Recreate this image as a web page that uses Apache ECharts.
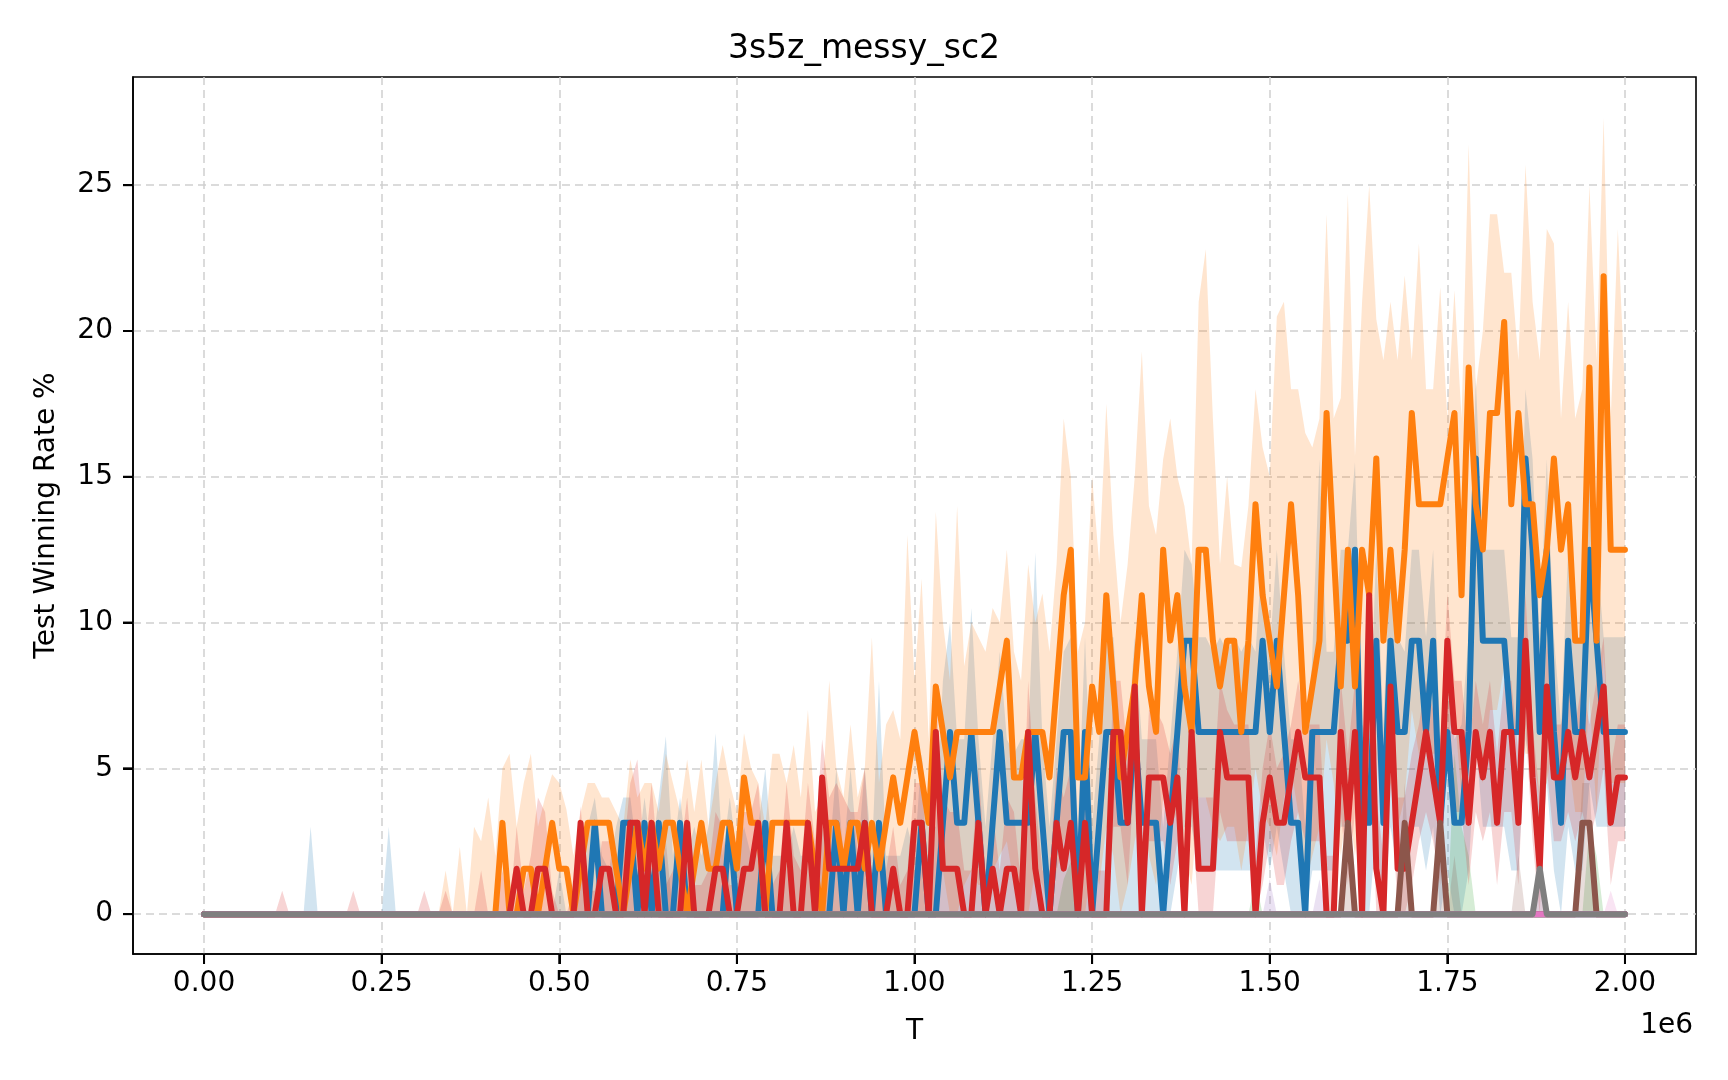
<!DOCTYPE html>
<html>
<head>
<meta charset="UTF-8">
<title>3s5z_messy_sc2</title>
<script src="https://cdn.jsdelivr.net/npm/echarts@6/dist/echarts.min.js"></script>
<style>
  html, body { margin: 0; padding: 0; background: #fff; }
  #chart { width: 1728px; height: 1080px; }
</style>
</head>
<body>
<div id="chart"></div>
<script type="text/javascript">
// one evaluation every 10k env steps, 0 .. 2e6
var T = [];
for (var i = 0; i <= 200; i++) T.push(i * 10000);

function zeros(n) { return new Array(n).fill(0); }
// mostly-empty runs: only list the steps where something shows up
function spikes(map) {
  var a = zeros(T.length);
  for (var k in map) a[+k] = map[k];
  return a;
}

var xTicks = [0, 250000, 500000, 750000, 1000000, 1250000, 1500000, 1750000, 2000000];
var yTicks = [0, 5, 10, 15, 20, 25];

// ---- curves (test win rate %) ----
var blueLine = [].concat(zeros(50),
  0,0,0,0,0,3.13,0,0,0,3.13,
  3.13,0,3.13,0,3.13,0,0,3.13,0,0,
  0,0,0,0,3.13,0,0,0,0,3.13,
  0,0,0,0,0,0,0,0,0,3.13,
  0,3.13,0,3.13,0,3.13,0,0,0,0,
  0,3.13,0,0,3.13,6.25,3.13,3.13,6.25,3.13,
  0,3.13,6.25,3.13,3.13,3.13,3.13,6.25,3.13,0,
  3.13,6.25,6.25,0,6.25,0,3.13,6.25,6.25,3.13,
  3.13,6.25,3.13,3.13,3.13,0,3.13,6.25,9.38,9.38,
  6.25,6.25,6.25,6.25,6.25,6.25,6.25,6.25,6.25,9.38,
  6.25,9.38,6.25,3.13,3.13,0,6.25,6.25,6.25,6.25,
  9.38,9.38,12.5,3.13,3.13,9.38,3.13,9.38,6.25,6.25,
  9.38,9.38,6.25,9.38,3.13,6.25,3.13,3.13,6.25,15.63,
  9.38,9.38,9.38,9.38,6.25,6.25,15.63,12.5,6.25,12.5,
  6.25,3.13,9.38,6.25,6.25,12.5,9.38,6.25,6.25,6.25,
  6.25);

var orangeLine = [].concat(zeros(40),
  0,0,3.13,0,0,1.56,1.56,0,1.56,3.13,
  1.56,1.56,0,1.56,3.13,3.13,3.13,3.13,1.56,0,
  1.56,3.13,1.56,3.13,1.56,3.13,3.13,1.56,0,1.56,
  3.13,1.56,1.56,3.13,3.13,1.56,4.69,3.13,3.13,0,
  3.13,3.13,3.13,3.13,3.13,3.13,1.56,0,3.13,3.13,
  1.56,3.13,3.13,1.56,3.13,1.56,3.13,4.69,3.13,4.69,
  6.25,4.69,3.13,7.81,6.25,4.69,6.25,6.25,6.25,6.25,
  6.25,6.25,7.81,9.38,4.69,4.69,6.25,6.25,6.25,4.69,
  7.81,10.94,12.5,4.69,4.69,7.81,6.25,10.94,7.81,4.69,
  6.25,7.81,10.94,7.81,6.25,12.5,9.38,10.94,7.81,6.25,
  12.5,12.5,9.38,7.81,9.38,9.38,6.25,9.38,14.06,10.94,
  9.38,7.81,10.94,14.06,10.94,6.25,7.81,9.38,17.19,12.5,
  7.81,12.5,7.81,12.5,10.94,15.63,9.38,12.5,9.38,12.5,
  17.19,14.06,14.06,14.06,14.06,15.63,17.19,10.94,18.75,14.06,
  12.5,17.19,17.19,20.31,14.06,17.19,14.06,14.06,10.94,12.5,
  15.63,12.5,14.06,9.38,9.38,18.75,9.38,21.88,12.5,12.5,
  12.5);

var redLine = [].concat(zeros(40),
  0,0,0,0,1.56,0,0,1.56,1.56,0,
  0,0,0,3.13,0,0,1.56,1.56,0,0,
  3.13,3.13,0,3.13,0,0,0,0,3.13,0,
  0,0,1.56,1.56,0,0,1.56,1.56,3.13,0,
  0,0,3.13,0,0,3.13,0,4.69,1.56,1.56,
  1.56,1.56,1.56,3.13,0,0,0,1.56,0,0,
  3.13,3.13,0,6.25,1.56,1.56,1.56,0,0,3.13,
  0,1.56,0,1.56,1.56,0,6.25,1.56,0,0,
  3.13,1.56,3.13,0,3.13,0,0,0,6.25,6.25,
  3.13,7.81,0,4.69,4.69,4.69,3.13,4.69,0,6.25,
  1.56,1.56,1.56,6.25,4.69,4.69,4.69,4.69,0,3.13,
  4.69,3.13,3.13,4.69,6.25,4.69,4.69,4.69,0,0,
  6.25,3.13,6.25,0,10.94,1.56,0,7.81,1.56,1.56,
  3.13,4.69,6.25,4.69,3.13,9.38,6.25,6.25,3.13,6.25,
  4.69,6.25,3.13,6.25,6.25,3.13,9.38,4.69,1.56,7.81,
  4.69,4.69,6.25,4.69,6.25,4.69,6.25,7.81,3.13,4.69,
  4.69);

var brownLine = spikes({161: 3.13, 169: 3.13, 174: 3.13, 194: 3.13, 195: 3.13});
var grayLine = spikes({188: 1.56});
var greenLine = zeros(201);
var purpleLine = zeros(201);
var pinkLine = zeros(201);

// ---- shaded spread (lower / upper edge) ----
var orangeHi = [].concat(zeros(30),
  0,0,0,0,1.5,0,2.3,0,3.0,2.5,
  4.0,2.0,5.0,5.5,3.0,4.5,5.5,3.0,4.0,4.8,
  4.5,3.6,2.0,3.5,4.5,4.5,4.0,4.0,3.5,3.0,
  5.3,4.0,4.5,4.5,3.5,5.5,4.5,3.5,5.3,3.5,
  5.3,3.0,4.5,5.8,4.5,3.5,6.2,5.0,4.5,3.0,
  5.5,5.5,4.5,5.8,4.0,7.0,3.5,4.0,8.0,5.0,
  4.0,6.5,4.0,5.0,9.5,4.5,6.5,7.0,6.0,13.0,
  8.0,11.5,6.0,13.8,10.0,8.0,14.0,8.5,10.0,9.5,
  9.0,10.5,10.0,12.5,9.0,8.0,12.0,10.0,11.0,9.0,
  12.0,17.0,15.0,9.0,10.0,15.0,12.0,17.5,13.0,10.0,
  12.0,15.0,19.3,14.0,13.0,15.6,17.0,15.0,14.0,12.0,
  21.0,22.8,17.0,12.0,15.0,12.0,11.9,14.0,18.0,16.0,
  15.0,20.5,21.0,18.0,18.0,16.5,16.0,17.0,24.0,17.0,
  17.7,24.7,15.7,21.0,25.0,20.4,19.0,21.0,19.0,21.9,
  19.0,23.0,18.0,18.0,21.5,17.0,21.4,17.0,26.4,18.0,
  20.0,24.0,24.0,22.0,22.0,19.0,25.7,21.0,19.0,23.5,
  23.0,17.0,21.0,17.0,18.0,25.0,19.0,27.3,17.0,23.5,
  18.0);
var orangeLo = [].concat(zeros(100),
  0,0,0,0,1.5,0,0,1.0,1.5,1.0,
  1.0,1.5,2.0,2.5,1.0,0,0,1.5,1.0,0,
  1.5,2.5,3.0,0,0,2.0,1.0,3.0,2.0,0,
  1.0,2.5,3.5,2.0,1.0,4.0,3.0,3.5,2.0,1.0,
  4.0,4.0,3.0,2.5,3.0,3.0,1.5,3.0,5.0,3.5,
  3.0,2.0,4.0,5.0,3.5,1.0,2.0,3.0,6.0,4.5,
  2.0,4.0,2.0,4.0,3.5,5.5,3.0,4.5,3.0,4.0,
  7.0,5.5,5.5,5.5,5.5,6.0,7.0,4.0,7.5,5.5,
  4.5,7.0,7.0,8.5,5.5,7.0,5.5,5.5,4.0,4.5,
  6.0,4.5,5.5,3.5,3.5,7.5,3.5,9.0,4.5,4.5,
  4.5);

var blueHi = [].concat(zeros(10),
  0,0,0,0,0,3.0,0,0,0,0,
  0,0,0,0,0,0,3.0,0,0,0,
  zeros(20),
  1.5,0,0,2.5,3.0,4.0,2.0,1.5,3.0,4.0,
  4.0,2.0,4.0,2.0,4.0,6.1,2.0,4.0,2.0,3.0,
  2.0,3.0,6.2,2.0,4.0,2.0,3.0,2.0,3.0,5.0,
  2.0,2.0,2.0,3.0,2.0,2.0,2.0,3.0,2.0,5.0,
  2.0,5.0,2.0,5.0,2.0,8.0,2.0,2.0,2.0,3.0,
  2.0,5.5,3.0,3.0,8.0,10.0,6.0,6.0,10.5,6.0,
  3.0,6.0,9.0,6.0,5.5,6.0,6.0,12.4,6.0,3.0,
  6.0,9.0,9.5,3.0,9.5,3.0,6.0,9.5,9.5,6.0,
  6.0,9.5,6.0,6.0,6.0,3.0,6.0,9.0,12.5,12.0,
  9.5,9.5,9.0,9.5,9.0,9.5,9.0,9.5,9.0,12.5,
  9.0,12.5,9.0,6.0,6.0,3.0,9.0,15.6,9.0,9.0,
  12.5,12.5,15.5,6.5,6.0,12.5,6.5,12.5,9.5,9.0,
  12.5,12.5,9.5,12.5,6.0,9.5,6.0,6.5,9.5,18.4,
  12.5,12.5,12.5,12.5,9.5,9.5,18.0,15.6,9.5,15.6,
  9.5,6.5,12.5,9.5,9.5,15.6,12.5,9.5,9.5,9.5,
  9.5);
var blueLo = [].concat(zeros(136),
  0,1.5,3.0,3.0,
  1.5,1.5,1.5,1.5,1.5,1.5,1.5,1.5,1.5,3.0,
  1.5,3.0,1.5,0,0,0,1.5,1.5,1.5,1.5,
  3.0,3.0,4.5,0,0,3.0,0,3.0,1.5,1.5,
  3.0,3.0,1.5,3.0,0,1.5,0,0,1.5,6.0,
  3.0,3.0,3.0,3.0,1.5,1.5,6.0,4.5,1.5,4.5,
  1.5,0,3.0,1.5,1.5,4.5,3.0,3.0,3.0,3.0,
  3.0);

var redHi = [].concat(zeros(10),
  0,0.8,0,0,0,0,0,0,0,0,
  0,0.8,0,0,0,0,0,0,0,0,
  0,0.8,0,0,0.8,0,0,0,0,1.5,
  0,0,1.5,0,3.0,0.8,2.0,4.0,3.5,0.8,
  0,0,0.8,3.7,0.8,0.8,2.5,2.5,0.8,2.0,
  4.5,5.3,2.0,4.5,1.5,1.0,1.5,2.0,4.0,1.0,
  1.0,1.5,3.5,3.0,1.0,1.0,3.5,3.5,4.5,1.0,
  1.0,1.5,4.5,2.0,1.5,4.5,2.5,6.0,4.0,4.5,
  4.0,3.5,3.5,5.0,1.0,1.5,1.5,3.0,1.0,1.5,
  4.5,4.5,1.5,7.5,4.0,3.5,3.5,1.5,1.5,5.0,
  1.5,3.5,1.5,4.0,3.5,1.0,8.0,4.0,1.5,1.5,
  5.0,4.0,5.0,1.5,5.0,1.5,1.5,1.5,8.0,8.0,
  5.5,9.0,2.0,7.0,7.0,6.5,5.5,6.5,2.0,8.0,
  4.0,4.0,4.0,8.0,7.0,6.5,6.5,6.5,2.0,5.0,
  6.5,5.0,5.5,6.5,8.0,6.5,6.5,6.5,2.0,2.0,
  8.0,5.5,8.0,2.0,12.0,4.0,2.0,9.5,4.0,4.0,
  5.5,6.5,8.0,7.0,5.5,11.0,8.0,8.0,5.5,8.0,
  6.5,8.0,5.5,8.0,8.0,5.5,11.0,6.5,4.0,9.5,
  6.5,6.5,8.0,6.5,8.0,6.5,8.0,9.5,5.0,6.5,
  6.5);
var redLo = [].concat(zeros(128),
  3.0,3.0,
  1.0,5.0,0,2.5,2.5,2.5,1.0,2.5,0,3.5,
  0,0,0,3.5,2.5,2.5,2.5,2.5,0,1.0,
  2.5,1.0,1.0,2.5,3.5,2.5,2.5,2.5,0,0,
  3.5,1.0,3.5,0,7.0,0,0,5.0,0,0,
  1.0,2.5,3.5,2.5,1.0,6.0,3.5,3.5,1.0,3.5,
  2.5,3.5,1.0,3.5,3.5,1.0,6.5,2.5,0,5.0,
  2.5,2.5,3.5,2.5,3.5,2.5,3.5,5.0,1.0,2.5,
  2.5);

var brownHi = spikes({65: 2.5, 161: 4.5, 169: 4.5, 174: 4.5, 176: 2.0, 185: 2.0, 194: 4.5, 195: 4.5});
var greenHi = spikes({121: 1.2, 122: 1.8, 148: 1.2, 176: 5.5, 177: 3.0, 178: 2.0, 195: 3.0, 196: 2.0});
var purpleHi = spikes({150: 1.2, 157: 1.2});
var pinkHi = spikes({188: 1.2, 198: 0.8});
var grayHi = spikes({188: 3.0});

var runs = [
  { name: 'run_0', color: '#1f77b4', line: blueLine,   lo: blueLo,     hi: blueHi },
  { name: 'run_1', color: '#ff7f0e', line: orangeLine, lo: orangeLo,   hi: orangeHi },
  { name: 'run_2', color: '#2ca02c', line: greenLine,  lo: zeros(201), hi: greenHi },
  { name: 'run_3', color: '#d62728', line: redLine,    lo: redLo,      hi: redHi },
  { name: 'run_4', color: '#9467bd', line: purpleLine, lo: zeros(201), hi: purpleHi },
  { name: 'run_5', color: '#8c564b', line: brownLine,  lo: zeros(201), hi: brownHi },
  { name: 'run_6', color: '#e377c2', line: pinkLine,   lo: zeros(201), hi: pinkHi },
  { name: 'run_7', color: '#7f7f7f', line: grayLine,   lo: zeros(201), hi: grayHi }
];

var X_RANGE = { min: -100000, max: 2100000 };
var Y_RANGE = { min: -1.367, max: 28.71 };
var TICK_LEN = 10;

function fade(hex, a) {
  var n = parseInt(hex.slice(1), 16);
  return 'rgba(' + (n >> 16 & 255) + ',' + (n >> 8 & 255) + ',' + (n & 255) + ',' + a + ')';
}

var series = [];
runs.forEach(function (r) {
  // spread band: one polygon, upper edge left->right then lower edge back
  series.push({
    name: r.name + '_band', type: 'custom', silent: true,
    encode: { x: 0, y: [1, 2] },
    data: T.map(function (t, i) { return [t, r.lo[i], r.hi[i]]; }),
    renderItem: function (params, api) {
      if (params.dataIndex !== 0) return null;
      var pts = [], k;
      for (k = 0; k < T.length; k++) pts.push(api.coord([T[k], r.hi[k]]));
      for (k = T.length - 1; k >= 0; k--) pts.push(api.coord([T[k], r.lo[k]]));
      return { type: 'polygon', shape: { points: pts }, style: { fill: fade(r.color, 0.2), stroke: null } };
    }
  });
  series.push({
    name: r.name, type: 'line', symbol: 'none',
    lineStyle: { color: r.color, width: 6, join: 'round', cap: 'round' },
    itemStyle: { color: r.color },
    data: T.map(function (t, i) { return [t, r.line[i]]; })
  });
});

// outward tick marks on the bottom and left spines, placed through the axis scales
series.push({
  name: 'xticks', type: 'custom', silent: true, clip: false,
  encode: { x: 0, y: 1 },
  data: xTicks.map(function (v) { return [v, Y_RANGE.min]; }),
  renderItem: function (params, api) {
    var p = api.coord([api.value(0), Y_RANGE.min]);
    return { type: 'line', shape: { x1: p[0], y1: p[1], x2: p[0], y2: p[1] + TICK_LEN },
             style: { stroke: '#000', lineWidth: 2 } };
  }
});
series.push({
  name: 'yticks', type: 'custom', silent: true, clip: false,
  encode: { x: 0, y: 1 },
  data: yTicks.map(function (v) { return [X_RANGE.min, v]; }),
  renderItem: function (params, api) {
    var p = api.coord([X_RANGE.min, api.value(1)]);
    return { type: 'line', shape: { x1: p[0] - TICK_LEN, y1: p[1], x2: p[0], y2: p[1] },
             style: { stroke: '#000', lineWidth: 2 } };
  }
});

var FONT = 'DejaVu Sans';
var chart = echarts.init(document.getElementById('chart'));
var option = {
  animation: false,
  backgroundColor: '#fff',
  title: {
    text: '3s5z_messy_sc2', left: 'center', top: 28,
    textStyle: { fontFamily: FONT, fontSize: 33, fontWeight: 'normal', color: '#000' }
  },
  grid: {
    left: 133, right: 32, top: 77, bottom: 126,
    show: true, borderColor: '#000', borderWidth: 1.6
  },
  xAxis: {
    type: 'value', min: X_RANGE.min, max: X_RANGE.max, position: 'bottom',
    name: 'T', nameLocation: 'middle', nameGap: 64,
    nameTextStyle: { fontFamily: FONT, fontSize: 28, color: '#000' },
    axisLine: { show: true, onZero: false, lineStyle: { color: '#000', width: 1.6 } },
    axisTick: { show: true, inside: false, length: TICK_LEN, customValues: xTicks, lineStyle: { color: '#000', width: 2 } },
    axisLabel: {
      customValues: xTicks, margin: 16, fontFamily: FONT, fontSize: 28, color: '#000',
      formatter: function (v) { return (v / 1e6).toFixed(2); }
    },
    splitLine: { show: true, lineStyle: { color: '#cfcfcf', width: 1.5, type: [8, 5] } }
  },
  yAxis: {
    type: 'value', min: Y_RANGE.min, max: Y_RANGE.max, position: 'left',
    name: 'Test Winning Rate %', nameLocation: 'middle', nameGap: 72, nameRotate: 90,
    nameTextStyle: { fontFamily: FONT, fontSize: 28, color: '#000' },
    axisLine: { show: true, onZero: false, lineStyle: { color: '#000', width: 1.6 } },
    axisTick: { show: true, inside: false, length: TICK_LEN, customValues: yTicks, lineStyle: { color: '#000', width: 2 } },
    axisLabel: {
      customValues: yTicks, margin: 20, fontFamily: FONT, fontSize: 28, color: '#000',
      formatter: function (v) { return String(v); }
    },
    splitLine: { show: true, lineStyle: { color: '#cfcfcf', width: 1.5, type: [8, 5] } }
  },
  graphic: [{
    type: 'text', right: 35, bottom: 40,
    style: { text: '1e6', font: '28px "DejaVu Sans"', fill: '#000' }
  }],
  series: series
};
chart.setOption(option);
</script>
</body>
</html>
